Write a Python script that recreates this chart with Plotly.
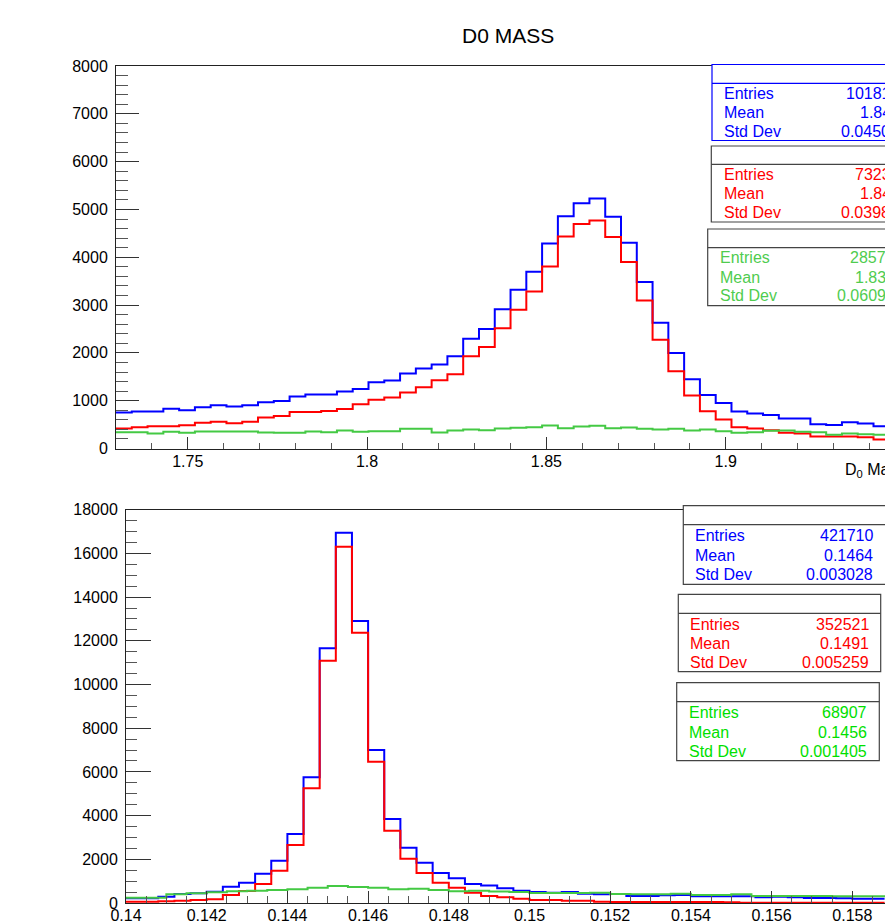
import numpy as np
import plotly.graph_objects as go

W, H = 885, 921

# ---------------- data: top pad (D0 mass) ----------------
d0_lo = 1.73
d0_bin = 0.0044
d0_all = [752, 773, 773, 829, 800, 863, 905, 877, 905, 968,
          996, 1086, 1128, 1128, 1191, 1247, 1386, 1420, 1567, 1671,
          1755, 1929, 2298, 2500, 2910, 3321, 3697, 4289, 4860, 5131,
          5229, 4846, 4303, 3481, 2632, 1998, 1448, 1121, 954, 773,
          731, 703, 627, 627, 508, 494, 550, 522, 466]
d0_sig = [418, 446, 466, 466, 487, 540, 557, 529, 557, 647,
          680, 762, 762, 782, 828, 925, 1020, 1068, 1170, 1281,
          1427, 1553, 1929, 2124, 2517, 2903, 3286, 3808, 4435, 4693,
          4769, 4421, 3899, 3098, 2277, 1615, 1107, 780, 606, 446,
          418, 383, 327, 313, 251, 251, 251, 237, 188]
d0_bkg = [341, 341, 313, 348, 327, 355, 355, 355, 355, 334,
          327, 327, 355, 341, 376, 348, 362, 362, 411, 411,
          334, 376, 397, 380, 418, 432, 446, 480, 425, 460,
          474, 425, 439, 411, 397, 411, 376, 397, 362, 327,
          341, 369, 376, 348, 341, 285, 313, 299, 285]
d0_xticks = [1.75, 1.8, 1.85, 1.9]
d0_xlabels = ["1.75", "1.8", "1.85", "1.9"]
d0_yticks = [0, 1000, 2000, 3000, 4000, 5000, 6000, 7000, 8000]
d0_ylabels = ["0", "1000", "2000", "3000", "4000", "5000", "6000", "7000", "8000"]

# ---------------- data: bottom pad (delta mass) ----------------
dm_lo = 0.14
dm_bin = 0.0004
dm_all = [214, 214, 290, 412, 442, 519, 748, 931, 1343, 1937,
          3158, 5751, 11655, 16949, 12906, 7002, 3844, 2533, 1846, 1373,
          1129, 870, 800, 671, 565, 503, 473, 503, 420, 400,
          412, 320, 320, 350, 366, 305, 305, 305, 305, 259,
          290, 260, 229, 229, 220, 198, 198]
dm_sig = [61, 61, 80, 107, 137, 168, 366, 549, 870, 1480,
          2654, 5248, 11091, 16308, 12372, 6468, 3310, 2029, 1373, 931,
          702, 473, 320, 259, 198, 137, 137, 107, 107, 61,
          46, 46, 46, 46, 46, 46, 46, 30, 15, 15,
          15, 15, 15, 15, 15, 15, 15]
dm_bkg_lo = 0.14
dm_bkg_bin = 0.0005
dm_bkg = [244, 244, 397, 442, 488, 534, 565, 595, 626, 702,
          778, 732, 702, 626, 656, 595, 540, 560, 530, 500,
          452, 452, 458, 465, 412, 397, 397, 427, 366, 366,
          397, 320, 320, 320, 320, 305, 305, 305]
dm_xticks = [0.14, 0.142, 0.144, 0.146, 0.148, 0.15, 0.152, 0.154, 0.156, 0.158]
dm_xlabels = ["0.14", "0.142", "0.144", "0.146", "0.148", "0.15", "0.152", "0.154", "0.156", "0.158"]
dm_yticks = [0, 2000, 4000, 6000, 8000, 10000, 12000, 14000, 16000, 18000]
dm_ylabels = ["0", "2000", "4000", "6000", "8000", "10000", "12000", "14000", "16000", "18000"]

# stats boxes (top pad values are cut by the canvas edge)
stat_keys = ["Entries", "Mean", "Std Dev"]
top_stats = [["10181", "1.84", "0.0450"],
             ["7323", "1.84", "0.0398"],
             ["2857", "1.83", "0.0609"]]
bot_stats = [["421710", "0.1464", "0.003028"],
             ["352521", "0.1491", "0.005259"],
             ["68907", "0.1456", "0.001405"]]

BLUE, RED, GREEN = "#0000ff", "#ff0000", "#44c944"
GREEN_TXT_TOP, GREEN_TXT_BOT = "#4fcc4f", "#00e000"
FONT = "Liberation Sans, Arial, Helvetica, sans-serif"


def px(x):
    return x / W


def py(y):
    return 1 - y / H


def step(lo, w, vals, color, xa, ya):
    e = lo + w * np.arange(len(vals) + 1)
    y = list(vals) + [vals[-1]]
    return go.Scatter(x=e, y=y, mode="lines", xaxis=xa, yaxis=ya,
                      line=dict(color=color, width=2, shape="hv"),
                      showlegend=False, hoverinfo="skip")


fig = go.Figure()
for vals, col in [(d0_all, BLUE), (d0_sig, RED), (d0_bkg, GREEN)]:
    fig.add_trace(step(d0_lo, d0_bin, vals, col, "x", "y"))
fig.add_trace(step(dm_lo, dm_bin, dm_all, BLUE, "x2", "y2"))
fig.add_trace(step(dm_lo, dm_bin, dm_sig, RED, "x2", "y2"))
fig.add_trace(step(dm_bkg_lo, dm_bkg_bin, dm_bkg, GREEN, "x2", "y2"))

# pad geometry (pixels)
T_L, T_T, T_B = 116, 66, 448.5
B_L, B_T, B_B = 126, 509.7, 903
T_SCALE = 3586.7   # px per unit
B_SCALE = 40350.0

axcommon = dict(showgrid=False, zeroline=False, showline=True, linecolor="#222",
                linewidth=1, ticks="inside", tickcolor="#333", tickwidth=1,
                tickfont=dict(family=FONT, size=16, color="black"),
                tickmode="array", fixedrange=True, automargin=False)

fig.update_layout(
    width=W, height=H, margin=dict(l=0, r=0, t=0, b=0, pad=0, autoexpand=False),
    paper_bgcolor="white", plot_bgcolor="white", showlegend=False,
    xaxis=dict(axcommon, domain=[px(T_L), 1], anchor="y",
               range=[d0_lo, d0_lo + (W - T_L) / T_SCALE], mirror=True,
               tickvals=d0_xticks, ticktext=d0_xlabels, ticklen=12,
               ticklabelstandoff=-2,
               minor=dict(tickmode="linear", tick0=1.75, dtick=0.01, ticklen=6,
                          ticks="inside", tickcolor="#555")),
    yaxis=dict(axcommon, domain=[py(T_B), py(T_T)], anchor="x", range=[0, 8000],
               tickvals=d0_yticks, ticktext=d0_ylabels, ticklen=23,
               ticklabelstandoff=4,
               minor=dict(tickmode="linear", tick0=0, dtick=200, ticklen=12,
                          ticks="inside", tickcolor="#555")),
    xaxis2=dict(axcommon, domain=[px(B_L), 1], anchor="y2",
                range=[dm_lo, dm_lo + (W - B_L) / B_SCALE], mirror=True,
                tickvals=dm_xticks, ticktext=dm_xlabels, ticklen=12,
                ticklabelstandoff=-2,
                minor=dict(tickmode="linear", tick0=0.14, dtick=0.0005, ticklen=7,
                           ticks="inside", tickcolor="#555")),
    yaxis2=dict(axcommon, domain=[py(B_B), py(B_T)], anchor="x2", range=[0, 18000],
                tickvals=dm_yticks, ticktext=dm_ylabels, ticklen=25,
                ticklabelstandoff=4,
                minor=dict(tickmode="linear", tick0=0, dtick=500, ticklen=11,
                           ticks="inside", tickcolor="#555")),
)

ann = []
shapes = []

ann.append(dict(x=px(508), y=py(35), xref="paper", yref="paper", text="D0 MASS",
                showarrow=False, xanchor="center", yanchor="middle",
                font=dict(family=FONT, size=21, color="black")))
ann.append(dict(x=px(843), y=py(470), xref="paper", yref="paper",
                text="D<sub>0</sub> Ma",
                showarrow=False, xanchor="left", yanchor="middle",
                font=dict(family=FONT, size=16, color="black")))


def stats_box(x0, x1, top, head, bottom, border, txtcol, key_x, rows_y, vals,
              val_x=None, val_left=None):
    shapes.append(dict(type="rect", xref="paper", yref="paper",
                       x0=px(x0), x1=px(x1), y0=py(bottom), y1=py(top),
                       line=dict(color=border, width=1.2), fillcolor="white", layer="above"))
    shapes.append(dict(type="line", xref="paper", yref="paper",
                       x0=px(x0), x1=px(x1), y0=py(head), y1=py(head),
                       line=dict(color=border, width=1.2), layer="above"))
    for i, (k, v, yy) in enumerate(zip(stat_keys, vals, rows_y)):
        ann.append(dict(x=px(key_x), y=py(yy), xref="paper", yref="paper", text=k,
                        showarrow=False, xanchor="left", yanchor="middle",
                        font=dict(family=FONT, size=16, color=txtcol)))
        if val_left is not None:
            ann.append(dict(x=px(val_left[i]), y=py(yy), xref="paper", yref="paper", text=v,
                            showarrow=False, xanchor="left", yanchor="middle",
                            font=dict(family=FONT, size=16, color=txtcol)))
        else:
            ann.append(dict(x=px(val_x), y=py(yy), xref="paper", yref="paper", text=v,
                            showarrow=False, xanchor="right", yanchor="middle",
                            font=dict(family=FONT, size=16, color=txtcol)))


# top pad stats (box runs past the canvas edge)
stats_box(712, 890, 64.5, 83.3, 140.5, BLUE, BLUE, 722, [93, 112.5, 131], top_stats[0],
          val_left=[844.3, 858.3, 839.3])
stats_box(711.3, 890, 146, 164.3, 222, "#444", RED, 722, [174.3, 194, 212.7], top_stats[1],
          val_left=[852.7, 857.7, 838.7])
stats_box(707.7, 890, 229, 247.7, 305.7, "#444", GREEN_TXT_TOP, 717.7, [257.3, 277.3, 295.7],
          top_stats[2], val_left=[848.3, 853.3, 835])
# bottom pad stats
stats_box(683.3, 890, 505.7, 524.7, 584.3, "#444", BLUE, 693.3,
          [535.7, 555.3, 574.3], bot_stats[0], val_x=875)
stats_box(678.3, 880.7, 594.3, 613.3, 671.7, "#444", RED, 688.3,
          [624, 643.3, 662.3], bot_stats[1], val_x=871.3)
stats_box(676.7, 879.3, 682.7, 701.7, 760.7, "#444", GREEN_TXT_BOT, 686.7,
          [712.3, 732.3, 751.3], bot_stats[2], val_x=869.3)

fig.update_layout(annotations=ann, shapes=shapes)
fig.write_html("out.html", config={"displayModeBar": False},
               post_script="document.body.style.margin='0';document.body.style.overflow='hidden';")
